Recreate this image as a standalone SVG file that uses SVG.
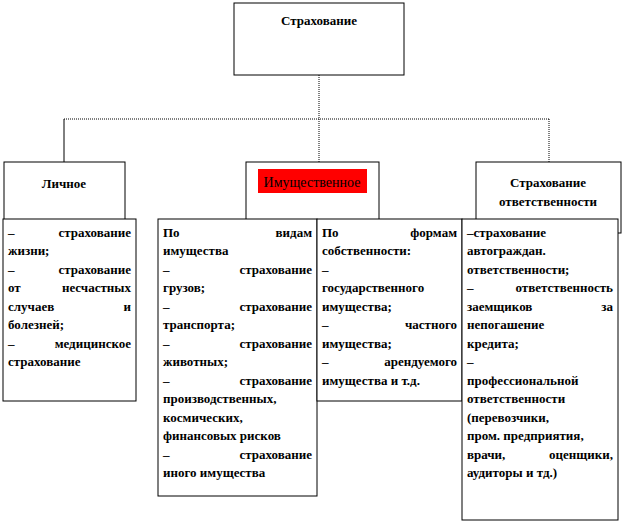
<svg xmlns="http://www.w3.org/2000/svg" width="622" height="525" viewBox="0 0 622 525">
<style>
rect.b{fill:#fff;stroke:#000;stroke-width:1}
line{stroke:#000;stroke-width:1}
.d{stroke-dasharray:1,1}
text{font-family:'Liberation Serif','Times New Roman','DejaVu Serif',serif;font-size:13px;font-weight:bold;fill:#000}
.r{text-anchor:end}
.m{text-anchor:middle}
</style>
<rect width="622" height="525" fill="#fff"/>
<g id="connectors">
<line class="d" x1="319" y1="75" x2="319" y2="162"/>
<line class="d" x1="64" y1="119" x2="549" y2="119"/>
<line x1="64" y1="119" x2="64" y2="162"/>
<line class="d" x1="549" y1="119" x2="549" y2="162"/>
<line x1="64" y1="233" x2="64" y2="219"/>
<line class="d" x1="319" y1="233" x2="319" y2="219"/>
<line class="d" x1="549" y1="233" x2="549" y2="219"/>
</g>
<g id="root"><rect class="b" x="234" y="3" width="170" height="72"/><text class="m" x="319" y="25">Страхование</text></g>
<g id="lichnoe"><rect class="b" x="4" y="162" width="121" height="71"/><text class="m" x="64" y="188">Личное</text></g>
<g id="imush"><rect class="b" x="246" y="162" width="133" height="71"/><rect x="258" y="169" width="109" height="24" fill="#f00"/><text class="m" x="312" y="187" style="font-weight:normal;font-size:14px">Имущественное</text></g>
<g id="otvet"><rect class="b" x="476" y="162" width="145" height="71"/><text class="m" x="548" y="187">Страхование</text><text class="m" x="548" y="206">ответственности</text></g>
<g id="lichnoe-list"><rect class="b" x="3" y="219" width="133" height="182"/>
<text x="8" y="237">–</text><text class="r" x="131" y="237">страхование</text>
<text x="8" y="255">жизни;</text>
<text x="8" y="274">–</text><text class="r" x="131" y="274">страхование</text>
<text x="8" y="292">от</text><text class="r" x="131" y="292">несчастных</text>
<text x="8" y="311">случаев</text><text class="r" x="131" y="311">и</text>
<text x="8" y="329">болезней;</text>
<text x="8" y="348">–</text><text class="r" x="131" y="348">медицинское</text>
<text x="8" y="366">страхование</text>
</g>
<g id="vidy"><rect class="b" x="158" y="219" width="159" height="277"/>
<text x="163" y="237">По</text><text class="r" x="312" y="237">видам</text>
<text x="163" y="255">имущества</text>
<text x="163" y="274">–</text><text class="r" x="312" y="274">страхование</text>
<text x="163" y="292">грузов;</text>
<text x="163" y="311">–</text><text class="r" x="312" y="311">страхование</text>
<text x="163" y="329">транспорта;</text>
<text x="163" y="348">–</text><text class="r" x="312" y="348">страхование</text>
<text x="163" y="366">животных;</text>
<text x="163" y="385">–</text><text class="r" x="312" y="385">страхование</text>
<text x="163" y="403">производственных,</text>
<text x="163" y="422">космических,</text>
<text x="163" y="440">финансовых рисков</text>
<text x="163" y="459">–</text><text class="r" x="312" y="459">страхование</text>
<text x="163" y="477">иного имущества</text>
</g>
<g id="formy"><rect class="b" x="317" y="219" width="145" height="182"/>
<text x="322" y="237">По</text><text class="r" x="457" y="237">формам</text>
<text x="322" y="255">собственности:</text>
<text x="322" y="274">–</text>
<text x="322" y="292">государственного</text>
<text x="322" y="311">имущества;</text>
<text x="322" y="329">–</text><text class="r" x="457" y="329">частного</text>
<text x="322" y="348">имущества;</text>
<text x="322" y="366">–</text><text class="r" x="457" y="366">арендуемого</text>
<text x="322" y="385">имущества и т.д.</text>
</g>
<g id="otvet-list"><rect class="b" x="462" y="219" width="156" height="301"/>
<text x="467" y="237">–страхование</text>
<text x="467" y="255">автограждан.</text>
<text x="467" y="274">ответственности;</text>
<text x="467" y="292">–</text><text class="r" x="613" y="292">ответственность</text>
<text x="467" y="311">заемщиков</text><text class="r" x="613" y="311">за</text>
<text x="467" y="329">непогашение</text>
<text x="467" y="348">кредита;</text>
<text x="467" y="366">–</text>
<text x="467" y="385">профессиональной</text>
<text x="467" y="403">ответственности</text>
<text x="467" y="422">(перевозчики,</text>
<text x="467" y="440">пром. предприятия,</text>
<text x="467" y="459">врачи,</text><text class="r" x="613" y="459">оценщики,</text>
<text x="467" y="477">аудиторы и тд.)</text>
</g>
</svg>
